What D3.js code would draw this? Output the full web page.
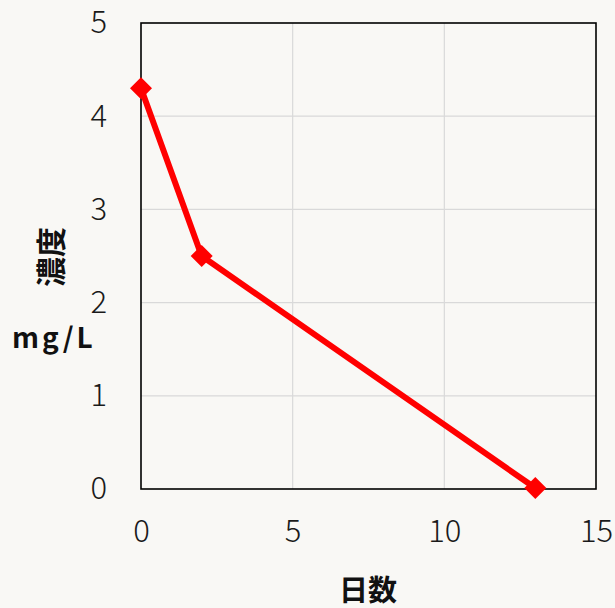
<!DOCTYPE html>
<html>
<head>
<meta charset="utf-8">
<script src="https://cdn.jsdelivr.net/npm/d3@7"></script>
<style>
  html, body { margin: 0; padding: 0; background: #f9f8f5; }
  svg { display: block; }
  text { font-family: "Noto Sans CJK JP", "Noto Sans", sans-serif; }
</style>
</head>
<body>
<script>
// Concentration over days
const days = [0, 2, 13];
const concentration = [4.3, 2.5, 0.01];
const xTicks = [0, 5, 10, 15];
const yTicks = [0, 1, 2, 3, 4, 5];
const xTitle = "日数";
const yTitle = "濃度";
const yUnit = "mg/L";

const W = 615, H = 608;
const m = { left: 141, right: 19, top: 23, bottom: 119 };

const svg = d3.select("body").append("svg")
  .attr("width", W).attr("height", H);

svg.append("rect").attr("width", W).attr("height", H).attr("fill", "#f9f8f5");

const x = d3.scaleLinear().domain([0, 15]).range([m.left, W - m.right]);
const y = d3.scaleLinear().domain([0, 5]).range([H - m.bottom, m.top]);

// gridlines
const grid = svg.append("g");
grid.selectAll("line.v").data(xTicks.slice(1, -1)).join("line")
  .attr("x1", d => x(d)).attr("x2", d => x(d))
  .attr("y1", y(0)).attr("y2", y(5))
  .attr("stroke", "#d9d9d9").attr("stroke-width", 1.2);
grid.selectAll("line.h").data(yTicks.slice(1, -1)).join("line")
  .attr("x1", x(0)).attr("x2", x(15))
  .attr("y1", d => y(d)).attr("y2", d => y(d))
  .attr("stroke", "#d9d9d9").attr("stroke-width", 1.2);

// plot frame
svg.append("rect")
  .attr("x", x(0)).attr("y", y(5))
  .attr("width", x(15) - x(0)).attr("height", y(0) - y(5))
  .attr("fill", "none").attr("stroke", "#000").attr("stroke-width", 1.6);

// axes (labels only)
const xAxis = svg.append("g")
  .attr("transform", `translate(0,${y(0)})`)
  .call(d3.axisBottom(x).tickValues(xTicks).tickFormat(d3.format("d")).tickSize(0).tickPadding(31));
const yAxis = svg.append("g")
  .attr("transform", `translate(${x(0)},0)`)
  .call(d3.axisLeft(y).tickValues(yTicks).tickFormat(d3.format("d")).tickSize(0).tickPadding(34));
[xAxis, yAxis].forEach(a => {
  a.select(".domain").remove();
  a.selectAll("text")
    .attr("font-family", "'Noto Sans CJK JP', sans-serif")
    .attr("font-weight", 300)
    .attr("font-size", 31)
    .attr("fill", "#1a1a1a");
});

// data line
const pts = days.map((d, i) => [d, concentration[i]]);
svg.append("path")
  .datum(pts)
  .attr("fill", "none")
  .attr("stroke", "#ff0000")
  .attr("stroke-width", 6)
  .attr("stroke-linejoin", "round")
  .attr("d", d3.line().x(d => x(d[0])).y(d => y(d[1])));

svg.selectAll("path.marker").data(pts).join("path")
  .attr("class", "marker")
  .attr("transform", d => `translate(${x(d[0])},${y(d[1])})`)
  .attr("d", "M0,-11L11,0L0,11L-11,0Z")
  .attr("fill", "#ff0000");

// titles
svg.append("text")
  .attr("transform", "translate(49,257) rotate(-90)")
  .attr("text-anchor", "middle")
  .attr("dominant-baseline", "central")
  .attr("font-weight", 700)
  .attr("font-size", 30)
  .attr("fill", "#111")
  .text(yTitle);

svg.append("text")
  .attr("x", 12).attr("y", 348)
  .attr("text-anchor", "start")
  .attr("font-weight", 700)
  .attr("font-size", 28)
  .attr("letter-spacing", 3)
  .attr("fill", "#111")
  .text(yUnit);

svg.append("text")
  .attr("x", 368).attr("y", 588)
  .attr("text-anchor", "middle")
  .attr("dominant-baseline", "central")
  .attr("font-weight", 700)
  .attr("font-size", 29)
  .attr("fill", "#111")
  .text(xTitle);
</script>
</body>
</html>
